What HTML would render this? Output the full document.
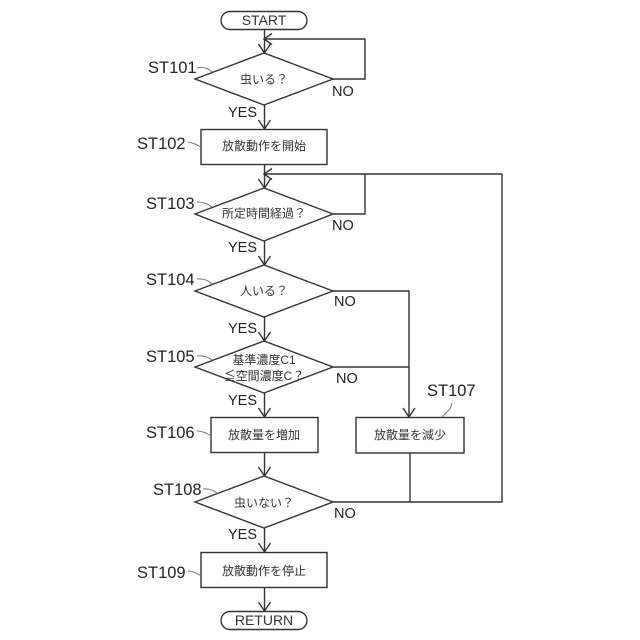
<!DOCTYPE html>
<html>
<head>
<meta charset="utf-8">
<style>
html,body{margin:0;padding:0;background:#fff;width:640px;height:640px;overflow:hidden}
svg{display:block}
.l{font-family:"Liberation Sans",sans-serif;font-size:16.5px;fill:#222}
.j{font-family:"Liberation Sans","Noto Sans CJK JP",sans-serif;font-size:12px;fill:#333;text-anchor:middle}
.t{font-family:"Liberation Sans",sans-serif;font-size:14px;fill:#333;text-anchor:middle}
.s{fill:none;stroke:#333;stroke-width:1.4}
.c{fill:none;stroke:#777;stroke-width:1}
.n{font-size:14.5px}
</style>
</head>
<body>
<svg width="640" height="640" viewBox="0 0 640 640" xmlns="http://www.w3.org/2000/svg">
<g class="s">
<rect x="221" y="11.500" width="86" height="18" rx="9"/>
<path d="M195 79L264 53L333 79L264 105Z"/>
<rect x="201" y="129.500" width="126" height="35"/>
<path d="M195 214L264 188L333 214L264 241Z"/>
<path d="M195 291L264 265L333 291L264 317Z"/>
<path d="M195 367L264 341L333 367L264 393Z"/>
<rect x="211" y="417.500" width="107" height="35"/>
<rect x="356" y="417.500" width="108" height="35.500"/>
<path d="M195 502L264 476L333 502L264 528Z"/>
<rect x="201" y="552.500" width="126" height="35"/>
<rect x="221" y="611.500" width="86" height="18" rx="9"/>

<path d="M264.500 30V53"/>
<path d="M333 79H365V39H265"/>
<path d="M264.500 105V129"/>
<path d="M264.500 164V188"/>
<path d="M333 214H365V174"/>
<path d="M502 174H265"/>
<path d="M264.500 241V265"/>
<path d="M333 291H409V417"/>
<path d="M264.500 317V341"/>
<path d="M333 367H409"/>
<path d="M264.500 393V417"/>
<path d="M264.500 453V476"/>
<path d="M333 502H502V174"/>
<path d="M410 453V502"/>
<path d="M264.500 528V552"/>
<path d="M264.500 588V611"/>

<path d="M258.500 44L264.500 53L270.500 44"/>
<path d="M272 33.500L264 39L272 44.500"/>
<path d="M258.500 120L264.500 129L270.500 120"/>
<path d="M258.500 179L264.500 188L270.500 179"/>
<path d="M272 168.500L264 174L272 179.500"/>
<path d="M258.500 256L264.500 265L270.500 256"/>
<path d="M258.500 332L264.500 341L270.500 332"/>
<path d="M258.500 408L264.500 417L270.500 408"/>
<path d="M403 408L409 417L415 408"/>
<path d="M258.500 467L264.500 476L270.500 467"/>
<path d="M258.500 543L264.500 552L270.500 543"/>
<path d="M258.500 602L264.500 611L270.500 602"/>
</g>
<g class="c">
<path d="M197 68Q206 66 212 72"/>
<path d="M188 142Q194 143 201 147"/>
<path d="M197 202Q206 202 212 207"/>
<path d="M197 279Q206 278 212 284"/>
<path d="M197 356Q206 355 212 360"/>
<path d="M197 431Q204 431 211 436"/>
<path d="M203 489Q212 488 218 494"/>
<path d="M188 571Q194 571 201 576"/>
<path d="M442 417Q446 413 450 409Q451 406 452 403"/>
</g>

<text class="t" x="264" y="25">START</text>
<text class="t" x="264" y="625">RETURN</text>

<text class="j" x="264" y="83.500">虫いる？</text>
<text class="j" x="264" y="150">放散動作を開始</text>
<text class="j" x="264" y="217.500">所定時間経過？</text>
<text class="j" x="264" y="295">人いる？</text>
<text class="j" x="264" y="364">基準濃度C1</text>
<text class="j" x="264" y="380">≦空間濃度C？</text>
<text class="j" x="264" y="439">放散量を増加</text>
<text class="j" x="410" y="439">放散量を減少</text>
<text class="j" x="264" y="507">虫いない？</text>
<text class="j" x="264" y="575">放散動作を停止</text>

<text class="l" x="148" y="73">ST101</text>
<text class="l" x="137" y="149">ST102</text>
<text class="l" x="146" y="209">ST103</text>
<text class="l" x="146" y="285">ST104</text>
<text class="l" x="146" y="362">ST105</text>
<text class="l" x="146" y="438">ST106</text>
<text class="l" x="427" y="396">ST107</text>
<text class="l" x="153" y="495">ST108</text>
<text class="l" x="137" y="578">ST109</text>

<text class="l n" x="332" y="96">NO</text>
<text class="l n" x="332" y="230">NO</text>
<text class="l n" x="334" y="306">NO</text>
<text class="l n" x="336" y="383">NO</text>
<text class="l n" x="334" y="518">NO</text>
<text class="l n" x="228" y="117">YES</text>
<text class="l n" x="228" y="252">YES</text>
<text class="l n" x="228" y="333">YES</text>
<text class="l n" x="228" y="405">YES</text>
<text class="l n" x="228" y="539">YES</text>
</svg>
</body>
</html>
